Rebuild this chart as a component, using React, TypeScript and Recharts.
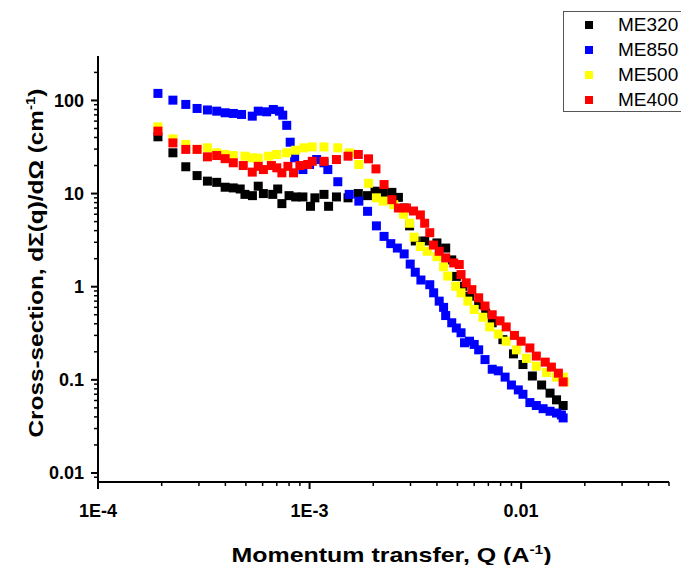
import { ScatterChart, Scatter, XAxis, YAxis, Legend } from "recharts";

// Q (A^-1) and cross-section (cm^-1), one pair of arrays per sample
const ME320_Q = [1.92e-4, 2.26e-4, 2.6e-4, 2.94e-4, 3.29e-4, 3.64e-4, 3.99e-4, 4.36e-4, 4.7e-4, 4.95e-4, 5.37e-4, 5.72e-4, 6.05e-4, 6.7e-4, 7.07e-4, 7.4e-4, 8.0e-4, 8.6e-4, 9.3e-4, 1.01e-3, 1.06e-3, 1.17e-3, 1.23e-3, 1.34e-3, 1.52e-3, 1.7e-3, 1.88e-3, 2.04e-3, 2.23e-3, 2.45e-3, 2.63e-3, 2.8e-3, 2.97e-3, 3.16e-3, 3.5e-3, 4.0e-3, 4.4e-3, 4.7e-3, 4.94e-3, 5.3e-3, 5.7e-3, 6.3e-3, 6.8e-3, 7.3e-3, 8.2e-3, 9.2e-3, 1.02e-2, 1.13e-2, 1.25e-2, 1.37e-2, 1.47e-2, 1.58e-2];
const ME320_I = [40.7, 27.4, 19.4, 15.6, 13.6, 13.2, 11.7, 11.5, 11.2, 9.8, 9.5, 12.0, 10.0, 9.8, 11.2, 7.8, 9.5, 9.2, 9.2, 7.3, 9.0, 9.8, 7.3, 9.2, 9.0, 10.0, 9.5, 10.6, 10.3, 10.3, 9.1, 7.0, 4.5, 3.1, 3.1, 2.95, 2.6, 1.94, 1.29, 1.01, 0.79, 0.64, 0.52, 0.41, 0.27, 0.19, 0.146, 0.11, 0.088, 0.072, 0.061, 0.053];

const ME850_Q = [1.92e-4, 2.26e-4, 2.6e-4, 2.94e-4, 3.29e-4, 3.64e-4, 3.99e-4, 4.36e-4, 4.77e-4, 5.36e-4, 5.72e-4, 6.27e-4, 6.74e-4, 7.2e-4, 7.47e-4, 7.8e-4, 8.1e-4, 8.5e-4, 9.3e-4, 1.0e-3, 1.08e-3, 1.17e-3, 1.22e-3, 1.36e-3, 1.54e-3, 1.71e-3, 1.88e-3, 2.07e-3, 2.25e-3, 2.42e-3, 2.6e-3, 2.8e-3, 2.99e-3, 3.16e-3, 3.36e-3, 3.7e-3, 3.86e-3, 4.1e-3, 4.3e-3, 4.4e-3, 4.7e-3, 4.94e-3, 5.2e-3, 5.4e-3, 5.7e-3, 6.0e-3, 6.3e-3, 6.75e-3, 7.3e-3, 7.8e-3, 8.4e-3, 9.0e-3, 9.7e-3, 1.02e-2, 1.1e-2, 1.18e-2, 1.27e-2, 1.37e-2, 1.47e-2, 1.55e-2, 1.58e-2];
const ME850_I = [119, 100.7, 90.6, 82, 79, 76.7, 73.7, 72.5, 70.7, 67.8, 76.7, 75.5, 80, 76.7, 69.5, 54, 35.6, 24.2, 18.1, 20.5, 23.2, 21.4, 18.1, 13.4, 9.8, 8.3, 6.45, 4.5, 3.47, 2.9, 2.6, 2.25, 1.75, 1.43, 1.18, 1.05, 0.86, 0.7, 0.6, 0.49, 0.41, 0.36, 0.32, 0.25, 0.26, 0.24, 0.21, 0.165, 0.13, 0.125, 0.107, 0.088, 0.078, 0.07, 0.057, 0.053, 0.049, 0.046, 0.044, 0.042, 0.039];

const ME500_Q = [1.92e-4, 2.26e-4, 2.6e-4, 2.94e-4, 3.29e-4, 3.64e-4, 3.99e-4, 4.36e-4, 4.95e-4, 5.37e-4, 5.72e-4, 6.4e-4, 7.0e-4, 7.8e-4, 8.6e-4, 9.4e-4, 1.03e-3, 1.17e-3, 1.36e-3, 1.54e-3, 1.71e-3, 1.9e-3, 2.07e-3, 2.23e-3, 2.5e-3, 2.78e-3, 2.97e-3, 3.12e-3, 3.34e-3, 3.6e-3, 4.0e-3, 4.3e-3, 4.5e-3, 4.9e-3, 5.2e-3, 5.6e-3, 6.0e-3, 6.6e-3, 7.1e-3, 7.8e-3, 8.5e-3, 9.5e-3, 1.06e-2, 1.18e-2, 1.32e-2, 1.47e-2, 1.58e-2, 1.6e-2];
const ME500_I = [52, 38.7, 33.7, 29.8, 31.0, 27.4, 26.3, 25.6, 25.2, 24.2, 24.0, 25.2, 26.3, 27.4, 29.2, 31, 31.7, 31.7, 31, 27.4, 20.5, 12.9, 9.0, 8.3, 7.6, 6.0, 4.8, 3.4, 2.7, 2.4, 2.1, 1.64, 1.3, 1.01, 0.86, 0.7, 0.57, 0.47, 0.37, 0.31, 0.26, 0.21, 0.17, 0.14, 0.12, 0.107, 0.107, 0.095];

const ME400_Q = [1.92e-4, 2.26e-4, 2.6e-4, 2.94e-4, 3.29e-4, 3.64e-4, 3.99e-4, 4.36e-4, 4.86e-4, 5.36e-4, 5.72e-4, 6.05e-4, 6.6e-4, 7.0e-4, 7.4e-4, 7.9e-4, 8.4e-4, 9.0e-4, 9.8e-4, 1.03e-3, 1.17e-3, 1.34e-3, 1.52e-3, 1.7e-3, 1.9e-3, 2.06e-3, 2.25e-3, 2.45e-3, 2.63e-3, 2.87e-3, 3.1e-3, 3.34e-3, 3.5e-3, 3.7e-3, 3.85e-3, 4.1e-3, 4.4e-3, 4.8e-3, 5.1e-3, 5.2e-3, 5.5e-3, 5.85e-3, 6.3e-3, 6.75e-3, 7.3e-3, 7.95e-3, 8.5e-3, 9.3e-3, 1.0e-2, 1.1e-2, 1.18e-2, 1.3e-2, 1.39e-2, 1.5e-2, 1.58e-2];
const ME400_I = [46.8, 35, 29.8, 29.8, 24.8, 25.6, 23.7, 21.4, 20.0, 17.0, 19.6, 18.1, 20, 18.9, 16.7, 19.6, 16.7, 20, 20.5, 22.2, 22.2, 23.2, 25.2, 26.3, 23.6, 18.4, 12.5, 8.6, 7.0, 7.0, 6.5, 5.9, 4.8, 3.8, 2.8, 2.4, 2.04, 1.8, 1.73, 1.35, 1.1, 0.93, 0.76, 0.62, 0.5, 0.43, 0.37, 0.3, 0.26, 0.22, 0.18, 0.155, 0.137, 0.118, 0.095];

const SERIES_NAMES = ["ME320", "ME850", "ME500", "ME400"];
const SERIES_COLORS = ["#000000", "#0000ff", "#ffff00", "#ff0000"];

const X_MAJOR = [1e-4, 1e-3, 1e-2];
const X_TICK_LABELS = ["1E-4", "1E-3", "0.01"];
const X_MINOR = [2e-4, 3e-4, 4e-4, 5e-4, 6e-4, 7e-4, 8e-4, 9e-4, 2e-3, 3e-3, 4e-3, 5e-3, 6e-3, 7e-3, 8e-3, 9e-3, 2e-2, 3e-2, 4e-2, 5e-2];
const Y_MAJOR = [0.01, 0.1, 1, 10, 100];
const Y_TICK_LABELS = ["0.01", "0.1", "1", "10", "100"];
const Y_MINOR = [0.009, 0.02, 0.03, 0.04, 0.05, 0.06, 0.07, 0.08, 0.09, 0.2, 0.3, 0.4, 0.5, 0.6, 0.7, 0.8, 0.9, 2, 3, 4, 5, 6, 7, 8, 9, 20, 30, 40, 50, 60, 70, 80, 90, 200];

const FONT = 'Arial, "Liberation Sans", sans-serif';

const toPoints = (qs: number[], is: number[]) => qs.map((q, k) => ({ q, i: is[k] }));
const seriesData = [
  toPoints(ME320_Q, ME320_I),
  toPoints(ME850_Q, ME850_I),
  toPoints(ME500_Q, ME500_I),
  toPoints(ME400_Q, ME400_I),
];

function XTick(props: any) {
  const { x, y, payload } = props;
  const k = X_MAJOR.indexOf(payload.value);
  return (
    <g>
      <line x1={x} x2={x} y1={y} y2={y + (k >= 0 ? 7 : 4)} stroke="#000" strokeWidth={k >= 0 ? 2 : 1.5} />
      {k >= 0 && (
        <text x={x} y={y + 35} textAnchor="middle" fontFamily={FONT} fontWeight="bold" fontSize={18} fill="#000">
          {X_TICK_LABELS[k]}
        </text>
      )}
    </g>
  );
}

function YTick(props: any) {
  const { x, y, payload } = props;
  const k = Y_MAJOR.indexOf(payload.value);
  return (
    <g>
      <line x1={x} x2={x - (k >= 0 ? 7 : 4)} y1={y} y2={y} stroke="#000" strokeWidth={k >= 0 ? 2 : 1.5} />
      {k >= 0 && (
        <text x={x - 14} y={y} dy="0.35em" textAnchor="end" fontFamily={FONT} fontWeight="bold" fontSize={18} fill="#000">
          {Y_TICK_LABELS[k]}
        </text>
      )}
    </g>
  );
}

function XTitle(props: any) {
  const vb = props.viewBox || {};
  const cx = vb.x + vb.width / 2 + 8;
  return (
    <text x={cx} y={vb.y + 80} textAnchor="middle" fontFamily={FONT} fontWeight="bold" fontSize={21} fill="#000"
      textLength={320} lengthAdjust="spacingAndGlyphs">
      Momentum transfer, Q (A<tspan dy={-8} fontSize={13}>-1</tspan><tspan dy={8}>)</tspan>
    </text>
  );
}

function YTitle(props: any) {
  const vb = props.viewBox || {};
  const cx = 43;
  const cy = vb.y + vb.height / 2 - 6;
  return (
    <text x={cx} y={cy} textAnchor="middle" transform={`rotate(-90, ${cx}, ${cy})`} fontFamily={FONT} fontWeight="bold"
      fontSize={21} fill="#000" textLength={349} lengthAdjust="spacingAndGlyphs">
      Cross-section, dΣ(q)/dΩ (cm<tspan dy={-8} fontSize={13}>-1</tspan><tspan dy={8}>)</tspan>
    </text>
  );
}

// legend keeps the series order (ME320, ME850, ME500, ME400) instead of sorting
function LegendBox() {
  return (
    <div style={{ boxSizing: "border-box", width: 118, height: 101, border: "1px solid #555", borderRight: "none", background: "#fff", fontFamily: FONT, fontSize: 19, color: "#000" }}>
      {SERIES_NAMES.map((name, k) => (
        <div key={name} style={{ display: "flex", alignItems: "center", height: 25 }}>
          <span style={{ display: "inline-block", width: 8, height: 8, background: SERIES_COLORS[k], marginLeft: 21, marginRight: 25 }} />
          <span>{name}</span>
        </div>
      ))}
    </div>
  );
}

const squareShape = (color: string) => (p: any) => (
  <rect x={p.cx - 4.5} y={p.cy - 4.5} width={9} height={9} fill={color} />
);

export default function App() {
  return (
    <div style={{ position: "absolute", left: 0, top: 0, background: "#fff" }}>
      <ScatterChart width={681} height={565} margin={{ top: 56, right: 12, bottom: 53, left: 38 }}>
        <XAxis
          dataKey="q"
          type="number"
          scale="log"
          domain={[1e-4, 0.05]}
          allowDataOverflow
          ticks={[...X_MAJOR, ...X_MINOR]}
          interval={0}
          tickSize={0}
          tickMargin={0}
          tick={<XTick />}
          height={30}
          axisLine={{ stroke: "#000", strokeWidth: 2 }}
          label={<XTitle />}
        />
        <YAxis
          dataKey="i"
          type="number"
          scale="log"
          domain={[0.008, 300]}
          allowDataOverflow
          ticks={[...Y_MAJOR, ...Y_MINOR]}
          interval={0}
          tickSize={0}
          tickMargin={0}
          tick={<YTick />}
          width={60}
          axisLine={{ stroke: "#000", strokeWidth: 2 }}
          label={<YTitle />}
        />
        <Legend
          layout="vertical"
          align="center"
          verticalAlign="middle"
          wrapperStyle={{ left: 563, top: 11, width: 118, height: 101 }}
          content={<LegendBox />}
        />
        {SERIES_NAMES.map((name, k) => (
          <Scatter
            key={name}
            name={name}
            data={seriesData[k]}
            fill={SERIES_COLORS[k]}
            shape={squareShape(SERIES_COLORS[k])}
            isAnimationActive={false}
          />
        ))}
      </ScatterChart>
    </div>
  );
}
